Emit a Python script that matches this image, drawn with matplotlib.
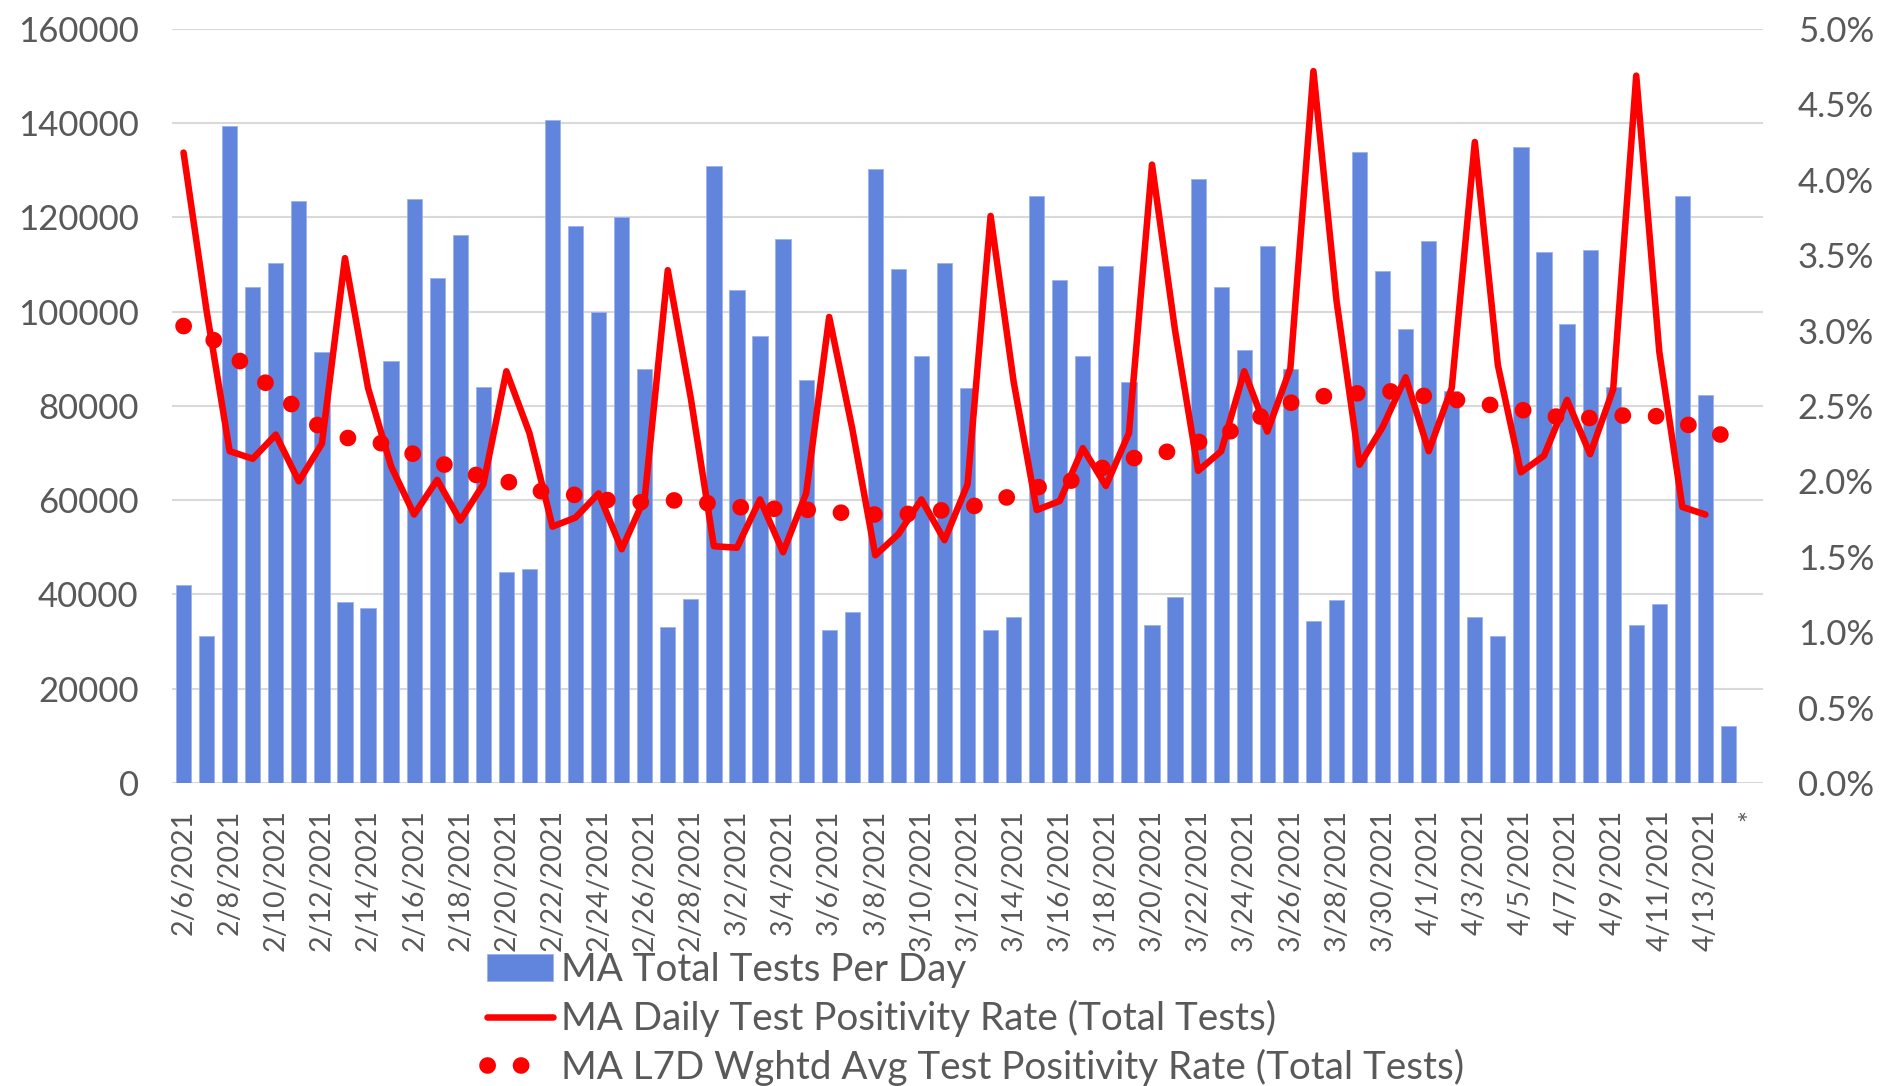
import numpy as np
import pandas as pd
import matplotlib
matplotlib.use("Agg")
import matplotlib.pyplot as plt
from matplotlib.ticker import FuncFormatter, MultipleLocator

plt.rcParams['font.family'] = ['Lato', 'DejaVu Sans']

# daily totals, 2/6/2021 .. 4/14/2021
tests = [42000, 31200, 139400, 105300, 110400, 123500, 91500, 38400, 37100, 89500,
         124000, 107200, 116300, 84100, 44800, 45300, 140700, 118100, 100000, 120000,
         87800, 33000, 39000, 130900, 104600, 94900, 115500, 85500, 32500, 36300,
         130300, 109100, 90500, 110400, 83800, 32500, 35300, 124500, 106700, 90500,
         109600, 85100, 33500, 39400, 128100, 105300, 91800, 114000, 87800, 34300,
         38900, 133900, 108600, 96300, 115000, 83200, 35300, 31200, 134900, 112700,
         97300, 113100, 84100, 33500, 38000, 124500, 82400, 12200]

# daily positivity (%), 2/6 .. 4/13
daily_pos = [4.18, 3.13, 2.20, 2.15, 2.31, 2.00, 2.25, 3.48, 2.62, 2.10,
             1.78, 2.01, 1.74, 1.98, 2.73, 2.32, 1.70, 1.76, 1.92, 1.55,
             1.89, 3.40, 2.55, 1.57, 1.56, 1.88, 1.53, 1.92, 3.09, 2.35,
             1.51, 1.65, 1.88, 1.61, 1.98, 3.76, 2.66, 1.81, 1.87, 2.22,
             1.97, 2.32, 4.10, 3.00, 2.07, 2.20, 2.73, 2.33, 2.75, 4.72,
             3.20, 2.11, 2.36, 2.69, 2.20, 2.62, 4.25, 2.77, 2.06, 2.17,
             2.54, 2.18, 2.61, 4.69, 2.86, 1.83, 1.78]

# 7 day weighted average positivity (%), 2/6 .. 4/14
l7d_pos = [3.03, 2.97, 2.86, 2.72, 2.60, 2.47, 2.35, 2.29, 2.27, 2.24,
           2.18, 2.13, 2.07, 2.03, 2.00, 1.95, 1.92, 1.91, 1.88, 1.87,
           1.86, 1.875, 1.87, 1.85, 1.83, 1.82, 1.817, 1.812, 1.80, 1.785,
           1.78, 1.78, 1.79, 1.81, 1.83, 1.855, 1.91, 1.96, 1.98, 2.03,
           2.10, 2.15, 2.17, 2.21, 2.26, 2.30, 2.38, 2.45, 2.52, 2.56,
           2.57, 2.585, 2.60, 2.59, 2.56, 2.545, 2.52, 2.50, 2.475, 2.44,
           2.42, 2.42, 2.43, 2.445, 2.43, 2.39, 2.33, 2.30]

dates = pd.date_range("2021-02-06", "2021-04-15")
labels = [f"{d.month}/{d.day}/{d.year}" for d in dates]
labels[-1] = "*"

gray = "#595959"
blue = "#6184DC"
red = "#FF0000"

fig = plt.figure(figsize=(18.82, 10.86), dpi=100)
ax = fig.add_axes([0.0914, 0.279, 0.8454, 0.6944])
ax2 = ax.twinx()

x = np.arange(len(labels))
bars = ax.bar(x[:len(tests)], tests, width=0.66, color=blue,
              edgecolor="#9db2ea", linewidth=0.6, zorder=2,
              label="MA Total Tests Per Day")

line1, = ax2.plot(x[:len(daily_pos)], np.array(daily_pos) / 100, color=red,
                  linewidth=4.7, solid_joinstyle="round", solid_capstyle="round",
                  label="MA Daily Test Positivity Rate (Total Tests)", zorder=3)
line2, = ax2.plot(x[:len(l7d_pos)], np.array(l7d_pos) / 100, color=red,
                  linewidth=12, linestyle=(0, (0.01, 2.0)), dash_capstyle="round",
                  label="MA L7D Wghtd Avg Test Positivity Rate (Total Tests)", zorder=4)

ax.set_xlim(-0.5, len(labels) - 0.5)
ax.set_ylim(0, 160000)
ax2.set_ylim(0, 0.05)
ax.yaxis.set_major_locator(MultipleLocator(20000))
ax2.yaxis.set_major_locator(MultipleLocator(0.005))
ax2.yaxis.set_major_formatter(FuncFormatter(lambda v, p: f"{v*100:.1f}%"))

tick_idx = list(range(0, 67, 2)) + [68]
ax.set_xticks(tick_idx)
ax.set_xticklabels([labels[i] for i in tick_idx], rotation=90)

ax.grid(axis="y", color="#d9d9d9", linewidth=1.5, zorder=0)
ax.set_axisbelow(True)
for a in (ax, ax2):
    for s in ("top", "left", "right", "bottom"):
        a.spines[s].set_visible(False)
ax.axhline(0, color="#d9d9d9", linewidth=2, zorder=1)

ax.tick_params(axis="y", length=0, pad=24, labelsize=25, labelcolor=gray)
ax2.tick_params(axis="y", length=0, pad=25, labelsize=25, labelcolor=gray)
ax.tick_params(axis="x", length=0, pad=19, labelsize=20.5, labelcolor=gray)

leg = fig.legend(handles=[bars, line1, line2], loc="upper left",
                 bbox_to_anchor=(0.259, 0.123), frameon=False, fontsize=27.8,
                 handlelength=1.7, handletextpad=0.2, labelspacing=0.3,
                 borderpad=0, borderaxespad=0)
for t in leg.get_texts():
    t.set_color(gray)

fig.savefig("out.png", dpi=100)
